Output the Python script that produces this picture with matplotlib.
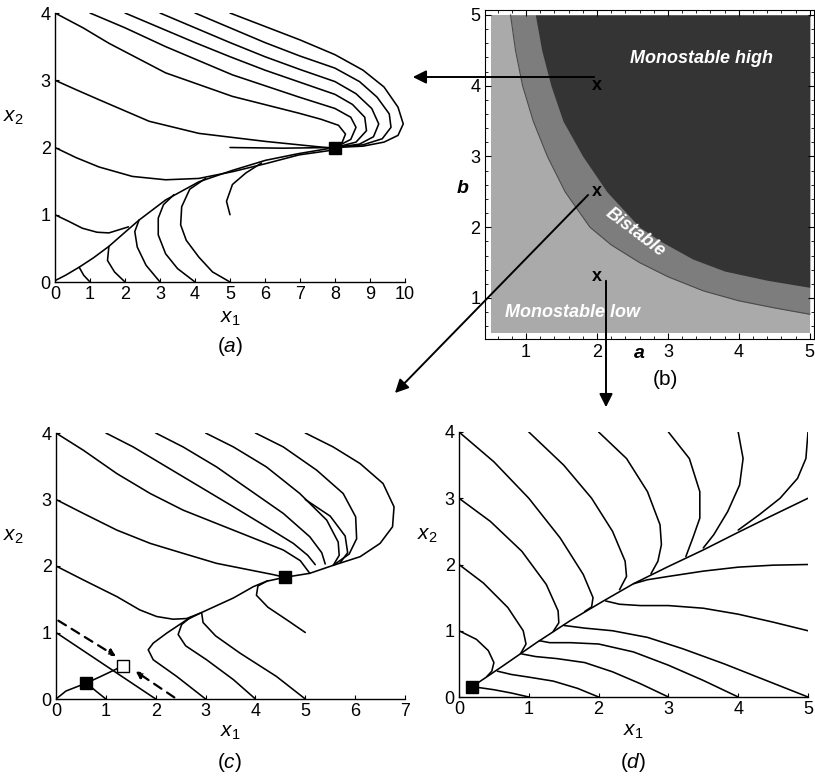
import numpy as np
import matplotlib.pyplot as plt
from matplotlib.patches import FancyArrowPatch

plt.rcParams['font.family'] = ['Liberation Sans', 'DejaVu Sans']
plt.rcParams['mathtext.fontset'] = 'custom'
plt.rcParams['mathtext.rm'] = 'Liberation Sans'
plt.rcParams['mathtext.it'] = 'Liberation Sans:italic'

# ---- panel (a): a=2, b=4 ----
traj_a = [
    [(0, 4), (0.8, 3.78), (1.54, 3.55), (3.16, 3.11), (5.07, 2.76), (6.97, 2.51), (7.6, 2.42), (8.1, 2.33), (8.3, 2.2), (8.2, 2.07), (8, 2)],
    [(1, 4), (2, 3.78), (3.16, 3.5), (5.07, 3.08), (6.97, 2.75), (8, 2.58), (8.45, 2.45), (8.6, 2.3), (8.45, 2.12), (8, 2)],
    [(2, 4), (3, 3.78), (4, 3.56), (5, 3.35), (6, 3.15), (7, 2.97), (8, 2.79), (8.5, 2.64), (8.85, 2.45), (8.9, 2.25), (8.6, 2.08), (8, 2)],
    [(3, 4), (4, 3.78), (5, 3.56), (6, 3.35), (7, 3.16), (8, 2.98), (8.6, 2.8), (9.05, 2.58), (9.25, 2.35), (9.1, 2.16), (8.7, 2.05), (8, 2)],
    [(4, 4), (5, 3.78), (6, 3.56), (7, 3.36), (8, 3.18), (8.7, 2.98), (9.2, 2.75), (9.55, 2.5), (9.6, 2.3), (9.35, 2.13), (8.8, 2.04), (8, 2)],
    [(5, 4), (6, 3.8), (7, 3.6), (8, 3.38), (8.8, 3.15), (9.4, 2.9), (9.8, 2.6), (9.95, 2.35), (9.8, 2.18), (9.4, 2.08), (8.8, 2.02), (8, 2)],
    [(0, 3), (0.6, 2.86), (1.26, 2.71), (2.69, 2.39), (4.11, 2.21), (6.02, 2.09), (7.92, 1.99)],
    [(0, 2), (0.6, 1.85), (1.26, 1.71), (2.21, 1.57), (3.16, 1.52), (4.11, 1.54), (5.07, 1.64), (6.02, 1.76), (6.97, 1.89), (7.92, 1.96)],
    [(5, 2), (6.5, 1.99), (8, 2)],
    [(0, 1), (0.4, 0.9), (0.78, 0.8), (1.2, 0.74), (1.54, 0.73), (1.85, 0.78), (2.1, 0.82)],
    [(0, 0.02), (0.3, 0.1), (0.69, 0.22), (1.1, 0.36), (1.54, 0.53), (2.0, 0.74), (2.4, 0.92), (3.16, 1.22), (4.11, 1.49), (5.07, 1.66), (6.02, 1.81), (6.97, 1.91), (8, 2)],
    [(1, 0), (0.82, 0.1), (0.69, 0.22)],
    [(2, 0), (1.7, 0.15), (1.5, 0.32), (1.54, 0.53)],
    [(3, 0), (2.6, 0.25), (2.35, 0.52), (2.28, 0.75), (2.4, 0.92)],
    [(4, 0), (3.5, 0.2), (3.16, 0.42), (2.95, 0.7), (2.95, 0.95), (3.1, 1.15), (3.4, 1.3)],
    [(5, 0), (4.5, 0.15), (4.11, 0.37), (3.75, 0.62), (3.59, 0.85), (3.62, 1.12), (3.85, 1.38), (4.3, 1.54)],
    [(5, 1), (4.9, 1.2), (5.07, 1.45), (5.45, 1.62), (5.9, 1.77)],
]
fp_a = [(8, 2)]

# ---- panel (b): parameter plane ----
low_bnd_a = [0.78, 0.85, 0.95, 1.1, 1.3, 1.55, 1.9, 2.2, 2.6, 3.0, 3.5, 4.0, 4.5, 5.0]
low_bnd_b = [5.0, 4.5, 4.0, 3.5, 3.0, 2.5, 2.0, 1.75, 1.5, 1.3, 1.1, 0.96, 0.86, 0.77]
high_bnd_a = [1.13, 1.22, 1.35, 1.52, 1.8, 2.14, 2.6, 2.9, 3.35, 3.8, 4.4, 5.0]
high_bnd_b = [5.0, 4.5, 4.0, 3.5, 3.0, 2.5, 2.0, 1.8, 1.55, 1.38, 1.25, 1.15]
mark_a = [2, 2, 2]
mark_b = [4, 2.5, 1.3]

# ---- panel (c): a=2, b=2.5 ----
traj_c = [
    [(0, 4), (0.55, 3.74), (1.22, 3.39), (1.89, 3.09), (2.55, 2.84), (3.22, 2.64), (3.89, 2.44), (4.56, 2.24), (4.9, 2.08), (5.05, 1.93), (5.09, 1.89)],
    [(1, 4), (1.55, 3.79), (2.22, 3.49), (2.89, 3.19), (3.56, 2.89), (4.22, 2.59), (4.76, 2.34), (5.05, 2.16), (5.2, 2.02)],
    [(2, 4), (2.55, 3.79), (3.22, 3.49), (3.89, 3.14), (4.56, 2.79), (5.09, 2.44), (5.33, 2.2), (5.4, 2.03)],
    [(3, 4), (3.56, 3.79), (4.22, 3.49), (4.89, 3.09), (5.43, 2.69), (5.66, 2.36), (5.68, 2.16), (5.56, 2.01)],
    [(4, 4), (4.56, 3.79), (5.23, 3.44), (5.76, 3.09), (6.01, 2.74), (6.03, 2.41), (5.88, 2.18), (5.56, 2.01)],
    [(5, 4), (5.56, 3.79), (6.1, 3.54), (6.56, 3.24), (6.78, 2.89), (6.75, 2.59), (6.5, 2.34), (6.1, 2.14), (5.56, 2.01), (5.09, 1.89), (4.59, 1.83)],
    [(5, 3), (5.5, 2.75), (5.8, 2.45), (5.85, 2.2), (5.7, 2.05)],
    [(0, 3), (0.55, 2.79), (1.22, 2.54), (1.89, 2.34), (2.55, 2.19), (3.22, 2.04), (3.89, 1.94), (4.36, 1.87), (4.59, 1.83)],
    [(0, 2), (0.55, 1.79), (1.22, 1.54), (1.68, 1.34), (2.02, 1.24), (2.35, 1.2), (2.62, 1.21), (2.89, 1.29)],
    [(3, 0), (2.42, 0.34), (1.95, 0.59), (1.85, 0.74), (1.95, 0.84), (2.22, 0.99), (2.62, 1.19), (2.89, 1.29), (3.56, 1.52), (3.96, 1.69), (4.22, 1.77), (4.59, 1.83)],
    [(4, 0), (3.56, 0.29), (3.02, 0.59), (2.6, 0.8), (2.45, 0.97), (2.52, 1.12), (2.7, 1.23)],
    [(5, 0), (4.42, 0.34), (3.69, 0.69), (3.2, 0.95), (2.95, 1.15), (2.92, 1.3)],
    [(5, 1), (4.63, 1.19), (4.25, 1.38), (4.02, 1.56), (4.05, 1.7), (4.25, 1.78)],
    [(0, 1), (0.6, 0.7), (1.2, 0.4), (2, 0)],
    [(0, 0), (0.2, 0.12), (0.61, 0.24), (0.9, 0.34), (1.35, 0.5)],
    [(1, 0), (0.8, 0.12), (0.61, 0.24)],
]
sep_c = [
    [(0, 1.2), (1.25, 0.62)],
    [(2.42, 0), (1.55, 0.44)],
]
fp_c = [(4.59, 1.83), (0.61, 0.24)]
saddle_c = [(1.35, 0.5)]

# ---- panel (d): a=2, b=1.3 ----
traj_d = [
    [(5, 3.0), (4.45, 2.72), (3.97, 2.47), (3.5, 2.22), (3.0, 1.97), (2.5, 1.71), (2.07, 1.45), (1.59, 1.15), (1.11, 0.82), (0.63, 0.47), (0.35, 0.27), (0.18, 0.15)],
    [(5, 4), (4.97, 3.6), (4.85, 3.3), (4.6, 3.0), (4.3, 2.75), (4.0, 2.52)],
    [(4, 4), (4.07, 3.6), (4.02, 3.2), (3.85, 2.8), (3.65, 2.45), (3.5, 2.25)],
    [(3, 4), (3.3, 3.6), (3.45, 3.1), (3.45, 2.7), (3.35, 2.4), (3.25, 2.12)],
    [(2, 4), (2.4, 3.6), (2.7, 3.1), (2.88, 2.6), (2.9, 2.3), (2.85, 2.05), (2.75, 1.86)],
    [(1, 4), (1.5, 3.5), (1.9, 3.0), (2.2, 2.5), (2.38, 2.05), (2.4, 1.82), (2.3, 1.62)],
    [(0, 4), (0.5, 3.55), (1.0, 3.0), (1.45, 2.4), (1.78, 1.85), (1.92, 1.5), (1.9, 1.36), (1.8, 1.29)],
    [(0, 3), (0.45, 2.65), (0.9, 2.2), (1.25, 1.7), (1.42, 1.3), (1.43, 1.12), (1.35, 0.99)],
    [(0, 2), (0.35, 1.72), (0.7, 1.35), (0.92, 1.0), (0.96, 0.8), (0.88, 0.65)],
    [(0, 1), (0.25, 0.87), (0.42, 0.7), (0.5, 0.52), (0.47, 0.39), (0.4, 0.31)],
    [(5, 2), (4.5, 1.99), (4.0, 1.96), (3.5, 1.9), (3.0, 1.82), (2.7, 1.77), (2.5, 1.71)],
    [(5, 1), (4.5, 1.13), (4.0, 1.25), (3.5, 1.34), (3.0, 1.38), (2.6, 1.38), (2.3, 1.4), (2.1, 1.45)],
    [(5, 0), (4.4, 0.25), (3.8, 0.5), (3.2, 0.73), (2.7, 0.9), (2.2, 1.0), (1.8, 1.04), (1.5, 1.08)],
    [(4, 0), (3.5, 0.25), (3.0, 0.48), (2.5, 0.68), (2.0, 0.8), (1.6, 0.82), (1.3, 0.82), (1.15, 0.85)],
    [(3, 0), (2.6, 0.2), (2.2, 0.38), (1.8, 0.52), (1.4, 0.58), (1.1, 0.61), (0.9, 0.65)],
    [(2, 0), (1.7, 0.13), (1.35, 0.24), (1.0, 0.3), (0.75, 0.34), (0.55, 0.39)],
    [(1, 0), (0.75, 0.06), (0.5, 0.11), (0.3, 0.14), (0.18, 0.15)],
]
fp_d = [(0.18, 0.15)]

W, H = 815, 781
fig = plt.figure(figsize=(W / 100, H / 100), dpi=100)


def box(l, t, r, b):
    return [l / W, 1 - b / H, (r - l) / W, (b - t) / H]


def phase_axes(rect, xmax, trajs, xlab_y, ylab_x):
    ax = fig.add_axes(rect)
    for tr in trajs:
        p = np.array(tr)
        ax.plot(p[:, 0], p[:, 1], color='black', lw=1.15, solid_capstyle='round',
                solid_joinstyle='round')
    ax.set_xlim(0, xmax)
    ax.set_ylim(0, 4)
    ax.set_xticks(range(0, xmax + 1))
    ax.set_yticks(range(0, 5))
    for s in ['top', 'right']:
        ax.spines[s].set_visible(False)
    for s in ['left', 'bottom']:
        ax.spines[s].set_linewidth(1.0)
    ax.tick_params(direction='in', length=3, labelsize=13, pad=3)
    ax.text(0.5, xlab_y, r'$\mathit{x_1}$', transform=ax.transAxes,
            ha='center', va='center', fontsize=15)
    ax.text(ylab_x, 0.61, r'$\mathit{x_2}$', transform=ax.transAxes,
            ha='center', va='center', fontsize=15)
    return ax


ax_a = phase_axes(box(55, 13, 405, 282), 10, traj_a, -0.135, -0.12)
ax_a.plot(*zip(*fp_a), 's', color='black', ms=8.5, clip_on=False)

ax_c = phase_axes(box(56, 433, 405, 699), 7, traj_c, -0.125, -0.123)
for seg in sep_c:
    p = np.array(seg)
    ax_c.annotate('', xy=p[1], xytext=p[0],
                  arrowprops=dict(arrowstyle='-|>', color='black', lw=1.6,
                                  linestyle=(0, (4, 3)), mutation_scale=10))
ax_c.plot(*zip(*fp_c), 's', color='black', ms=8.5)
ax_c.plot(*zip(*saddle_c), 's', mfc='white', mec='black', mew=1.0, ms=8.5)

ax_d = phase_axes(box(459, 432, 808, 697), 5, traj_d, -0.13, -0.09)
ax_d.plot(*zip(*fp_d), 's', color='black', ms=8.5, clip_on=False)

# ---- panel (b) ----
ax_b = fig.add_axes(box(485, 10, 814, 339))
light, mid, dark = '#aaaaaa', '#7d7d7d', '#343434'
ax_b.fill_between([0.5, 5.0], 0.5, 5.0, color=light, lw=0)
ax_b.fill_between(low_bnd_a, low_bnd_b, 5.0, color=mid, lw=0)
ax_b.fill_between(high_bnd_a, high_bnd_b, 5.0, color=dark, lw=0)
ax_b.plot(low_bnd_a, low_bnd_b, color='#4a4a4a', lw=0.8)
ax_b.set_xlim(0.42, 5.06)
ax_b.set_ylim(0.42, 5.07)
ax_b.set_xticks([1, 2, 3, 4, 5])
ax_b.set_yticks([1, 2, 3, 4, 5])
ax_b.set_xticks(np.arange(0.6, 5.01, 0.2), minor=True)
ax_b.set_yticks(np.arange(0.6, 5.01, 0.2), minor=True)
ax_b.tick_params(which='both', direction='in', top=True, right=True, labelsize=13)
ax_b.tick_params(which='major', length=4)
ax_b.tick_params(which='minor', length=2)
for s in ax_b.spines.values():
    s.set_linewidth(0.8)
for a_, b_ in zip(mark_a, mark_b):
    ax_b.text(a_, b_, 'x', ha='center', va='center', fontsize=13, fontweight='bold')
txt = dict(color='white', fontweight='bold', style='italic', fontsize=13)
ax_b.text(3.48, 4.38, 'Monostable high', ha='center', va='center', **txt)
ax_b.text(2.54, 1.92, 'Bistable', ha='center', va='center', rotation=-37, **txt)
ax_b.text(1.65, 0.8, 'Monostable low', ha='center', va='center', **txt)
ax_b.text(2.6, 0.33, 'a', ha='center', va='top', fontsize=14, fontweight='bold', style='italic')
ax_b.text(0.1, 2.55, 'b', ha='center', va='center', fontsize=14, fontweight='bold', style='italic')

# panel letters
for xc, yc, lab in [(230, 347, r'$(\mathit{a})$'), (665, 379, '(b)'),
                    (230, 763, r'$(\mathit{c})$'), (633, 763, r'$(\mathit{d})$')]:
    fig.text(xc / W, 1 - yc / H, lab, ha='center', va='center', fontsize=15)

# arrows from parameter plane to phase portraits
for (x0, y0), (x1, y1) in [((597, 77), (410, 77)), ((590, 193), (393, 395)), ((606, 278), (606, 410))]:
    fig.add_artist(FancyArrowPatch((x0 / W, 1 - y0 / H), (x1 / W, 1 - y1 / H),
                                   transform=fig.transFigure, arrowstyle='-|>',
                                   mutation_scale=20, lw=1.4, color='black'))

fig.savefig('out.png', dpi=100)
